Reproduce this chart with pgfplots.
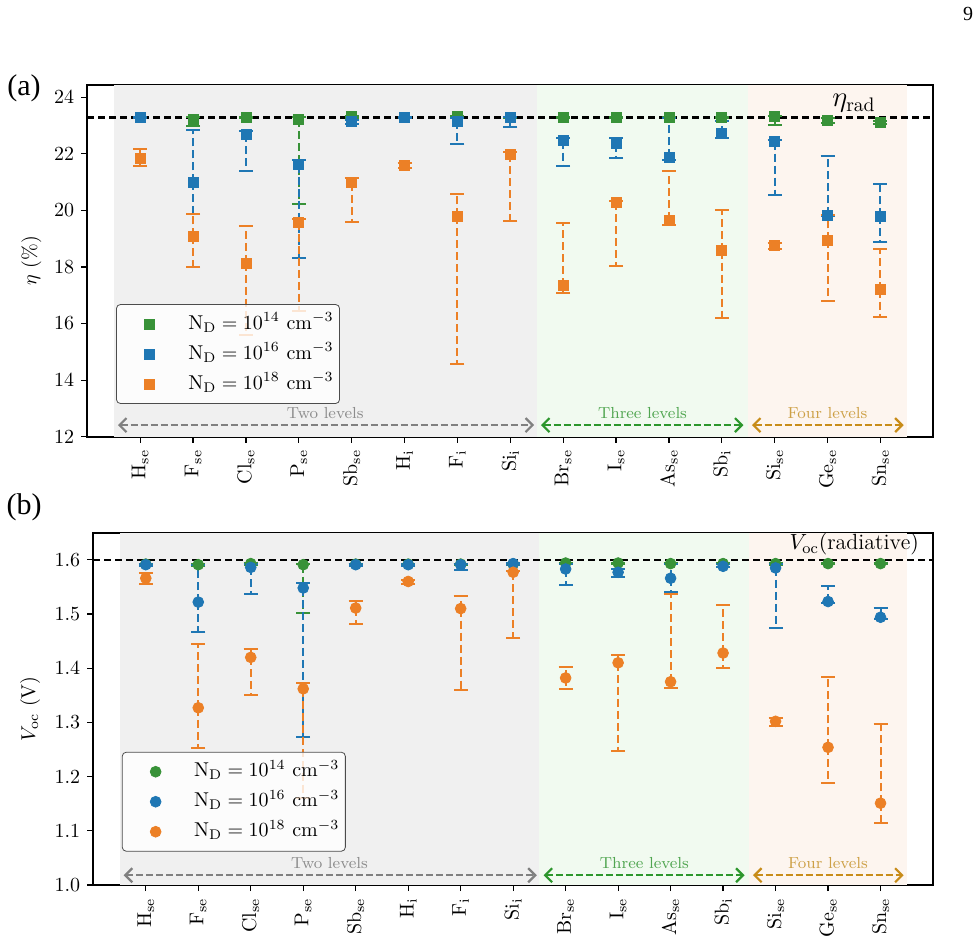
\documentclass[border=0pt]{standalone}
\usepackage{pgfplots}
\pgfplotsset{compat=1.18}
\usepackage{pgfplotstable}
\usepackage{fontspec}
\newfontfamily\timesfont{Liberation Serif}
\usetikzlibrary{arrows.meta}

\definecolor{cg}{RGB}{56,146,56}
\definecolor{cb}{RGB}{31,119,180}
\definecolor{co}{RGB}{236,128,38}
\definecolor{bggray}{RGB}{240,240,240}
\definecolor{bggreen}{RGB}{241,250,240}
\definecolor{bgorange}{RGB}{253,245,239}
\definecolor{agray}{RGB}{128,128,128}
\definecolor{tgray}{RGB}{140,140,140}
\definecolor{agreen}{RGB}{44,150,44}
\definecolor{tgreen}{RGB}{80,165,80}
\definecolor{agold}{RGB}{200,140,25}
\definecolor{tgold}{RGB}{205,160,70}

% panel (a): efficiency eta (%)
\pgfplotstableread{
x  g     gh    gl     b     bh    bl     o     oh    ol
0  23.28 23.30 23.26  23.28 23.30 23.26  21.85 22.18 21.58
1  23.20 23.30 22.99  20.99 22.85 19.87  19.08 19.87 18.01
2  23.28 23.31 23.25  22.69 22.79 21.40  18.14 19.44 15.58
3  23.22 23.30 20.23  21.61 21.77 18.30  19.59 19.71 16.44
4  23.31 23.33 23.28  23.14 23.20 23.05  20.97 21.13 19.58
5  23.28 23.30 23.26  23.28 23.30 23.26  21.58 21.66 21.50
6  23.31 23.33 23.28  23.14 23.25 22.33  19.79 20.59 14.58
7  23.28 23.30 23.26  23.28 23.30 22.93  21.99 22.05 19.64
8  23.28 23.30 23.26  22.46 22.56 21.57  17.34 19.55 17.08
9  23.28 23.30 23.26  22.35 22.56 21.84  20.28 20.33 18.05
10 23.28 23.30 23.26  21.88 23.27 21.79  19.65 21.38 19.48
11 23.28 23.30 23.26  22.71 23.16 22.54  18.58 20.01 16.19
12 23.31 23.33 23.01  22.43 22.47 20.53  18.75 18.83 18.65
13 23.17 23.25 23.10  19.82 21.93 19.80  18.94 19.84 16.80
14 23.10 23.15 23.05  19.79 20.93 18.87  17.20 18.65 16.23
}\tabA

% panel (b): Voc (V)
\pgfplotstableread{
x  g     gh    gl     b     bh    bl     o     oh    ol
0  1.592 1.593 1.591  1.591 1.593 1.589  1.566 1.575 1.556
1  1.591 1.593 1.589  1.522 1.590 1.466  1.327 1.445 1.252
2  1.593 1.594 1.591  1.586 1.592 1.537  1.420 1.435 1.351
3  1.591 1.593 1.502  1.548 1.558 1.273  1.362 1.372 1.160
4  1.592 1.593 1.591  1.591 1.593 1.589  1.511 1.524 1.482
5  1.592 1.593 1.591  1.591 1.593 1.589  1.560 1.563 1.556
6  1.592 1.593 1.591  1.591 1.593 1.582  1.510 1.533 1.359
7  1.592 1.593 1.591  1.593 1.594 1.591  1.577 1.580 1.455
8  1.594 1.595 1.593  1.583 1.592 1.553  1.382 1.403 1.361
9  1.594 1.595 1.593  1.577 1.583 1.569  1.410 1.425 1.248
10 1.593 1.594 1.592  1.566 1.593 1.540  1.375 1.537 1.363
11 1.593 1.594 1.592  1.588 1.592 1.586  1.428 1.516 1.401
12 1.593 1.595 1.590  1.585 1.593 1.474  1.302 1.308 1.294
13 1.593 1.594 1.592  1.523 1.551 1.520  1.254 1.383 1.188
14 1.593 1.594 1.592  1.494 1.511 1.490  1.151 1.297 1.114
}\tabB

\pgfplotsset{
  panel/.style={
    scale only axis, anchor=south west,
    xmin=-1, xmax=15,
    xtick={0,...,14},
    xticklabels={$\mathrm{H_{se}}$,$\mathrm{F_{se}}$,$\mathrm{Cl_{se}}$,$\mathrm{P_{se}}$,$\mathrm{Sb_{se}}$,$\mathrm{H_{i}}$,$\mathrm{F_{i}}$,$\mathrm{Si_{i}}$,$\mathrm{Br_{se}}$,$\mathrm{I_{se}}$,$\mathrm{As_{se}}$,$\mathrm{Sb_{i}}$,$\mathrm{Si_{se}}$,$\mathrm{Ge_{se}}$,$\mathrm{Sn_{se}}$},
    xticklabel style={rotate=90, anchor=east},
    tick align=outside, tick pos=left,
    major tick length=3pt,
    every tick/.style={black, line width=0.6pt},
    axis line style={line width=1pt},
    legend cell align=left,
    legend style={anchor=north west, draw=black!70, rounded corners=2pt,
      fill=white, fill opacity=0.8, text opacity=1, font=\normalsize,
      inner xsep=1pt, inner ysep=2.25pt, row sep=0pt,
      nodes={inner sep=2pt, text height=8pt, text depth=3pt}},
    legend image code/.code={\path (-15.5pt,0pt) (17pt,0pt); \draw[##1, opacity=1, fill opacity=1, draw opacity=1] plot coordinates {(0pt,0pt)};},
  },
  eb/.style={error bars/.cd, y dir=both, y explicit,
    error bar style={line width=1pt, dash pattern=on 4pt off 2pt, #1},
    error mark options={rotate=90, line width=1pt, mark size=3.5pt, solid, #1}},
}

\begin{document}
\begin{tikzpicture}
\path[use as bounding box] (0,0) rectangle (489.5pt,468.5pt);

% ---------------- (a)
\begin{axis}[panel, at={(43.65pt,250.15pt)}, width=423pt, height=175.85pt,
  ymin=12, ymax=24.43, ytick={12,14,16,18,20,22,24},
  ylabel={$\eta$ (\%)},
  ylabel style={at={(axis description cs:-0.046,0.5)}, anchor=south},
  legend style={at={(0.034,0.377)}}]
  \fill[bggray] (axis cs:-0.5,12) rectangle (axis cs:7.5,24.43);
  \fill[bggreen] (axis cs:7.5,12) rectangle (axis cs:11.5,24.43);
  \fill[bgorange] (axis cs:11.5,12) rectangle (axis cs:14.5,24.43);
  \addplot[black, line width=1.1pt, dash pattern=on 3.5pt off 2pt, forget plot] coordinates {(-1,23.28) (15,23.28)};
  \node[anchor=south, inner sep=1pt, font=\fontsize{14}{16}\selectfont] at (axis cs:13.5,23.38) {$\eta_{\mathrm{rad}}$};
  \draw[agray, line width=1.1pt, dash pattern=on 3.5pt off 1.5pt, {Straight Barb[length=3.5pt,width=7pt]}-{Straight Barb[length=3.5pt,width=7pt]}] (axis cs:-0.42,12.41) -- (axis cs:7.45,12.41);
  \draw[agreen, line width=1.1pt, dash pattern=on 3.5pt off 1.5pt, {Straight Barb[length=3.5pt,width=7pt]}-{Straight Barb[length=3.5pt,width=7pt]}] (axis cs:7.58,12.41) -- (axis cs:11.41,12.41);
  \draw[agold, line width=1.1pt, dash pattern=on 3.5pt off 1.5pt, {Straight Barb[length=3.5pt,width=7pt]}-{Straight Barb[length=3.5pt,width=7pt]}] (axis cs:11.57,12.41) -- (axis cs:14.44,12.41);
  \node[text=tgray, font=\fontsize{8}{9}\selectfont] at (axis cs:3.5,12.85) {Two levels};
  \node[text=tgreen, font=\fontsize{8}{9}\selectfont] at (axis cs:9.5,12.85) {Three levels};
  \node[text=tgold, font=\fontsize{8}{9}\selectfont] at (axis cs:13,12.85) {Four levels};

  \addplot[only marks, mark=square*, mark size=2.5pt, color=cg, mark options={solid, fill=cg, draw=cg}, eb=cg]
    table[x=x, y=g, y error plus expr=\thisrow{gh}-\thisrow{g}, y error minus expr=\thisrow{g}-\thisrow{gl}] {\tabA};
  \addlegendentry{$\mathrm{N_D} = 10^{14}~\mathrm{cm^{-3}}$}
  \addplot[only marks, mark=square*, mark size=2.5pt, color=cb, mark options={solid, fill=cb, draw=cb}, eb=cb]
    table[x=x, y=b, y error plus expr=\thisrow{bh}-\thisrow{b}, y error minus expr=\thisrow{b}-\thisrow{bl}] {\tabA};
  \addlegendentry{$\mathrm{N_D} = 10^{16}~\mathrm{cm^{-3}}$}
  \addplot[only marks, mark=square*, mark size=2.5pt, color=co, mark options={solid, fill=co, draw=co}, eb=co]
    table[x=x, y=o, y error plus expr=\thisrow{oh}-\thisrow{o}, y error minus expr=\thisrow{o}-\thisrow{ol}] {\tabA};
  \addlegendentry{$\mathrm{N_D} = 10^{18}~\mathrm{cm^{-3}}$}
\end{axis}

% ---------------- (b)
\begin{axis}[panel, at={(46.65pt,26pt)}, width=419.85pt, height=176.15pt,
  ymin=1.0, ymax=1.65, ytick={1.0,1.1,1.2,1.3,1.4,1.5,1.6},
  yticklabel style={/pgf/number format/.cd, fixed, fixed zerofill, precision=1},
  ylabel={$V_{\mathrm{oc}}$ (V)},
  ylabel style={at={(axis description cs:-0.055,0.5)}, anchor=south},
  legend style={at={(0.034,0.378)}}]
  \fill[bggray] (axis cs:-0.5,1.0) rectangle (axis cs:7.5,1.65);
  \fill[bggreen] (axis cs:7.5,1.0) rectangle (axis cs:11.5,1.65);
  \fill[bgorange] (axis cs:11.5,1.0) rectangle (axis cs:14.5,1.65);
  \addplot[black, line width=1.1pt, dash pattern=on 3.5pt off 2pt, forget plot] coordinates {(-1,1.6) (15,1.6)};
  \node[anchor=south, inner sep=1pt, font=\fontsize{11}{13}\selectfont] at (axis cs:13.5,1.604) {$V_{\mathrm{oc}}(\mathrm{radiative})$};
  \draw[agray, line width=1.1pt, dash pattern=on 3.5pt off 1.5pt, {Straight Barb[length=3.5pt,width=7pt]}-{Straight Barb[length=3.5pt,width=7pt]}] (axis cs:-0.42,1.018) -- (axis cs:7.45,1.018);
  \draw[agreen, line width=1.1pt, dash pattern=on 3.5pt off 1.5pt, {Straight Barb[length=3.5pt,width=7pt]}-{Straight Barb[length=3.5pt,width=7pt]}] (axis cs:7.58,1.018) -- (axis cs:11.41,1.018);
  \draw[agold, line width=1.1pt, dash pattern=on 3.5pt off 1.5pt, {Straight Barb[length=3.5pt,width=7pt]}-{Straight Barb[length=3.5pt,width=7pt]}] (axis cs:11.57,1.018) -- (axis cs:14.44,1.018);
  \node[text=tgray, font=\fontsize{8}{9}\selectfont] at (axis cs:3.5,1.04) {Two levels};
  \node[text=tgreen, font=\fontsize{8}{9}\selectfont] at (axis cs:9.5,1.04) {Three levels};
  \node[text=tgold, font=\fontsize{8}{9}\selectfont] at (axis cs:13,1.04) {Four levels};

  \addplot[only marks, mark=*, mark size=2.7pt, color=cg, mark options={solid, fill=cg, draw=cg}, eb=cg]
    table[x=x, y=g, y error plus expr=\thisrow{gh}-\thisrow{g}, y error minus expr=\thisrow{g}-\thisrow{gl}] {\tabB};
  \addlegendentry{$\mathrm{N_D} = 10^{14}~\mathrm{cm^{-3}}$}
  \addplot[only marks, mark=*, mark size=2.7pt, color=cb, mark options={solid, fill=cb, draw=cb}, eb=cb]
    table[x=x, y=b, y error plus expr=\thisrow{bh}-\thisrow{b}, y error minus expr=\thisrow{b}-\thisrow{bl}] {\tabB};
  \addlegendentry{$\mathrm{N_D} = 10^{16}~\mathrm{cm^{-3}}$}
  \addplot[only marks, mark=*, mark size=2.7pt, color=co, mark options={solid, fill=co, draw=co}, eb=co]
    table[x=x, y=o, y error plus expr=\thisrow{oh}-\thisrow{o}, y error minus expr=\thisrow{o}-\thisrow{ol}] {\tabB};
  \addlegendentry{$\mathrm{N_D} = 10^{18}~\mathrm{cm^{-3}}$}
\end{axis}

\node[font=\timesfont\fontsize{15}{17}\selectfont] at (12pt,424.5pt) {(a)};
\node[font=\timesfont\fontsize{15}{17}\selectfont] at (12pt,215pt) {(b)};
\node[font=\timesfont\fontsize{10}{12}\selectfont] at (484pt,461.5pt) {9};
\end{tikzpicture}
\end{document}
